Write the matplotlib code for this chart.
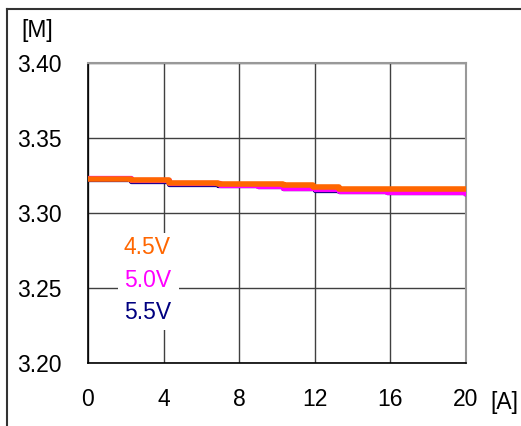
import matplotlib
matplotlib.use('Agg')
import matplotlib.pyplot as plt
from matplotlib.lines import Line2D
from matplotlib.patches import Rectangle

plt.rcParams['font.family'] = ['Liberation Sans', 'DejaVu Sans']

# load current [A] vs output voltage [V], step-like readings
x_45 = [0, 2.3, 4.3, 6.9, 10.3, 11.9, 13.3, 20]
v_45 = [3.3227, 3.3220, 3.3203, 3.3196, 3.3185, 3.3173, 3.3158, 3.3158]

x_50 = [0, 2.3, 4.3, 7.0, 9.0, 10.3, 12.0, 13.3, 15.8, 20]
v_50 = [3.3232, 3.3220, 3.3203, 3.3190, 3.3180, 3.3169, 3.3160, 3.3150, 3.3140, 3.3132]

x_55 = [0, 2.3, 4.3, 6.9, 9.0, 10.3, 12.0, 13.3, 15.8, 20]
v_55 = [3.3225, 3.3212, 3.3195, 3.3190, 3.3180, 3.3167, 3.3155, 3.3147, 3.3138, 3.3135]

x_ticks = [0, 4, 8, 12, 16, 20]
y_ticks = [3.20, 3.25, 3.30, 3.35, 3.40]

fig = plt.figure(figsize=(5.21, 4.26), dpi=100)
ax = fig.add_axes([88/521, 63/426, 378/521, 300/426])

ax.plot(x_55, v_55, color='#000080', lw=3.8, drawstyle='steps-post', zorder=3)
ax.plot(x_50, v_50, color='#ff00ff', lw=3.8, drawstyle='steps-post', zorder=4)
ax.plot(x_45, v_45, color='#ff6600', lw=4.0, drawstyle='steps-post', zorder=5)

ax.set_xlim(0, 20)
ax.set_ylim(3.20, 3.40)
ax.set_xticks(x_ticks)
ax.set_yticks(y_ticks)
ax.set_xticklabels([str(t) for t in x_ticks])
ax.set_yticklabels(['%.2f' % t for t in y_ticks])
ax.tick_params(length=0, labelsize=16.5)
ax.tick_params(axis='x', pad=18)
ax.tick_params(axis='y', pad=19)
ax.grid(True, color='#404040', lw=1, zorder=0.5)
ax.set_axisbelow(True)

for s in ['top', 'right']:
    ax.spines[s].set_color('#999999')
    ax.spines[s].set_linewidth(1.5)
for s in ['left', 'bottom']:
    ax.spines[s].set_color('black')
    ax.spines[s].set_linewidth(1.2)

# white block behind the labels
ax.add_patch(Rectangle((1.58, 3.222), 3.23, 0.0647, facecolor='white',
                       edgecolor='none', zorder=1))
ax.text(1.9, 3.2767, '4.5V', color='#ff6600', fontsize=16.5, va='center', zorder=6)
ax.text(1.9, 3.2553, '5.0V', color='#ff00ff', fontsize=16.5, va='center', zorder=6)
ax.text(1.9, 3.2340, '5.5V', color='#000080', fontsize=16.5, va='center', zorder=6)

fig.text(21/521, 1 - 30/426, '[M]', fontsize=16.5, va='center', ha='left')
fig.text(490/521, 1 - 403/426, '[A]', fontsize=16.5, va='center', ha='left')

# outer frame (top and left only)
fig.add_artist(Line2D([7/521, 1], [1 - 9/426, 1 - 9/426], color='#333333', lw=1.5))
fig.add_artist(Line2D([7/521, 7/521], [0, 1 - 9/426], color='#333333', lw=1.5))

fig.savefig('out.png', dpi=100)
